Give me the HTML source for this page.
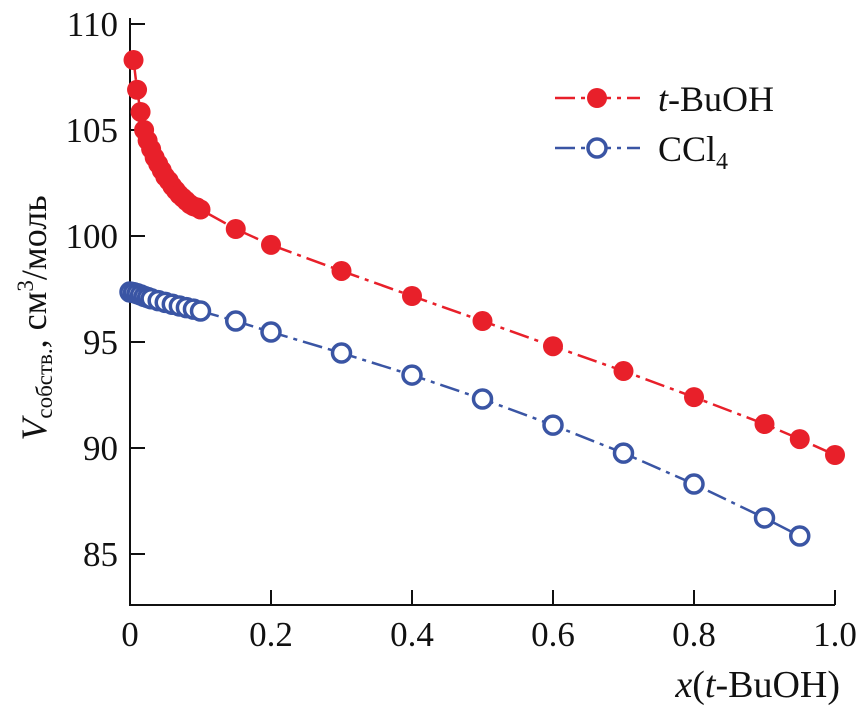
<!DOCTYPE html>
<html><head><meta charset="utf-8"><style>
html,body{margin:0;padding:0;background:#fff;}
svg{display:block;font-family:"Liberation Serif",serif;}
</style></head><body>
<svg id="chart" width="857" height="711">
<g id="axes"></g>
<g id="series"></g>
<g id="legend">
  <line x1="555" y1="98" x2="640" y2="98" stroke="#e8202a" stroke-width="2.5" stroke-dasharray="20,6,4,6"/>
  <circle cx="597" cy="98" r="10" fill="#e8202a"/>
  <text x="658" y="111" font-size="36" fill="#111"><tspan font-style="italic">t</tspan>-BuOH</text>
  <line x1="555" y1="148" x2="640" y2="148" stroke="#3a55a4" stroke-width="2.5" stroke-dasharray="20,6,4,6"/>
  <circle cx="597" cy="148" r="9" fill="#fff" stroke="#3a55a4" stroke-width="3.5"/>
  <text x="658" y="161" font-size="36" fill="#111">CCl<tspan font-size="24" dy="8">4</tspan></text>
</g>
<text x="840" y="697" text-anchor="end" font-size="38" fill="#111"><tspan font-style="italic">x</tspan>(<tspan font-style="italic">t</tspan>-BuOH)</text>
<text transform="translate(46,318) rotate(-90)" text-anchor="middle" font-size="36" fill="#111"><tspan font-style="italic">V</tspan><tspan font-size="23" dy="6">собств.</tspan><tspan dy="-6">, см</tspan><tspan font-size="23" dy="-13">3</tspan><tspan dy="13">/моль</tspan></text>
</svg>
<script>
const xTicks=[0,0.2,0.4,0.6,0.8,1.0];
const xTickLabels=["0","0.2","0.4","0.6","0.8","1.0"];
const yTicks=[85,90,95,100,105,110];
const yTickLabels=["85","90","95","100","105","110"];
const tbuohX=[0.005,0.01,0.015,0.02,0.025,0.03,0.035,0.04,0.045,0.05,0.055,0.06,0.065,0.07,0.075,0.08,0.085,0.09,0.095,0.1,0.15,0.2,0.3,0.4,0.5,0.6,0.7,0.8,0.9,0.95,1.0];
const tbuohY=[108.3,106.9,105.85,105.0,104.5,104.1,103.7,103.4,103.1,102.8,102.6,102.35,102.15,101.95,101.8,101.65,101.5,101.4,101.35,101.25,100.33,99.58,98.35,97.17,95.99,94.8,93.63,92.4,91.13,90.42,89.67];
const ccl4X=[0.0,0.005,0.01,0.015,0.02,0.025,0.03,0.04,0.05,0.06,0.07,0.08,0.09,0.1,0.15,0.2,0.3,0.4,0.5,0.6,0.7,0.8,0.9,0.95];
const ccl4Y=[97.36,97.33,97.28,97.22,97.15,97.1,97.04,96.95,96.87,96.78,96.7,96.62,96.55,96.46,95.99,95.47,94.48,93.44,92.31,91.08,89.76,88.3,86.7,85.85];
const NS="http://www.w3.org/2000/svg";
function xs(v){return 130+v*705;}
function ys(v){return 236-(v-100)*21.2;}
function mk(t,a,p){const e=document.createElementNS(NS,t);for(const k in a)e.setAttribute(k,a[k]);p.appendChild(e);return e;}
const ax=document.getElementById('axes');
let l=mk('path',{d:`M130,18 V605 H835`,fill:'none',stroke:'#111','stroke-width':2},ax);


xTicks.forEach((t,i)=>{
  const tk=mk('line',{x1:xs(t),x2:xs(t),y1:605,y2:590,stroke:'#111','stroke-width':2},ax);
  
  
  const tx=mk('text',{x:xs(t),y:646,'text-anchor':'middle','font-size':35,fill:'#111'},ax);
  tx.textContent=xTickLabels[i];
  
  
});
yTicks.forEach((t,i)=>{
  const tk=mk('line',{x1:130,x2:145,y1:ys(t),y2:ys(t),stroke:'#111','stroke-width':2},ax);
  
  
  const tx=mk('text',{x:118,y:ys(t)+12,'text-anchor':'end','font-size':35,fill:'#111'},ax);
  tx.textContent=yTickLabels[i];
  
  
});
const sg=document.getElementById('series');
function series(X,Y,col,filled,name){
  const d=X.map((x,i)=>(i?'L':'M')+xs(x)+','+ys(Y[i])).join(' ');
  const p=mk('path',{d:d,fill:'none',stroke:col,'stroke-width':2.5,'stroke-dasharray':'20,6,4,6'},sg);
  
  
  X.forEach((x,i)=>{
    const c=mk('circle',filled?{cx:xs(x),cy:ys(Y[i]),r:10,fill:col}:{cx:xs(x),cy:ys(Y[i]),r:9,fill:'#fff',stroke:col,'stroke-width':3.5},sg);
    
    
  });
}
series(ccl4X,ccl4Y,'#3a55a4',false,'ccl4');
series(tbuohX,tbuohY,'#e8202a',true,'tbuoh');
</script>
</body></html>
